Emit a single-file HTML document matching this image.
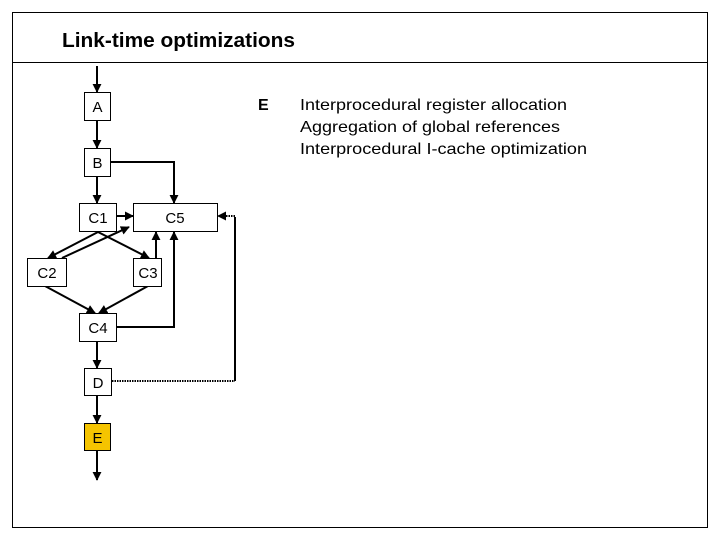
<!DOCTYPE html>
<html><head><meta charset="utf-8"><style>
html,body{margin:0;padding:0;background:#fff;}
svg{display:block;}
text{font-family:"Liberation Sans",Arial,sans-serif;}
</style></head><body>
<svg width="720" height="540" viewBox="0 0 720 540" xmlns="http://www.w3.org/2000/svg">
<defs>
<marker id="ar" viewBox="0 0 10 10" refX="9" refY="5" markerWidth="4.5" markerHeight="4.5" orient="auto-start-reverse">
<path d="M0,0 L10,5 L0,10 z" fill="#000"/></marker>
</defs>
<rect x="12.5" y="12.5" width="695" height="515" fill="none" stroke="#000" stroke-width="1"/>
<line x1="12" y1="62.5" x2="708" y2="62.5" stroke="#000" stroke-width="1"/>
<text x="62" y="47" font-size="20" font-weight="bold" textLength="233" lengthAdjust="spacingAndGlyphs">Link-time optimizations</text>
<text x="258" y="110" font-size="16" font-weight="bold">E</text>
<text x="300" y="110" font-size="16" textLength="267" lengthAdjust="spacingAndGlyphs">Interprocedural register allocation</text>
<text x="300" y="132" font-size="16" textLength="260" lengthAdjust="spacingAndGlyphs">Aggregation of global references</text>
<text x="300" y="154" font-size="16" textLength="287" lengthAdjust="spacingAndGlyphs">Interprocedural I-cache optimization</text>
<g stroke="#000" stroke-width="2" fill="none">
<line x1="97" y1="66" x2="97" y2="92" marker-end="url(#ar)"/>
<line x1="97" y1="120" x2="97" y2="148" marker-end="url(#ar)"/>
<line x1="97" y1="176" x2="97" y2="203" marker-end="url(#ar)"/>
<polyline points="110,162 174,162 174,203" marker-end="url(#ar)"/>
<line x1="116" y1="216" x2="133" y2="216" marker-end="url(#ar)"/>
<line x1="98" y1="232" x2="48" y2="258" marker-end="url(#ar)"/>
<line x1="98" y1="232" x2="149" y2="258" marker-end="url(#ar)"/>
<line x1="62" y1="258" x2="129" y2="227" marker-end="url(#ar)"/>
<line x1="156" y1="258" x2="156" y2="232" marker-end="url(#ar)"/>
<line x1="45" y1="286" x2="95" y2="313" marker-end="url(#ar)"/>
<line x1="148" y1="286" x2="99" y2="313" marker-end="url(#ar)"/>
<polyline points="116,327 174,327 174,232" marker-end="url(#ar)"/>
<line x1="97" y1="341" x2="97" y2="368" marker-end="url(#ar)"/>
<line x1="97" y1="395" x2="97" y2="423" marker-end="url(#ar)"/>
<line x1="97" y1="450" x2="97" y2="480" marker-end="url(#ar)"/>
<line x1="235" y1="381" x2="235" y2="217"/>
</g>
<g stroke="#000" stroke-width="2" fill="none" stroke-dasharray="1.5,1">
<line x1="112" y1="381" x2="235" y2="381"/>
<line x1="235" y1="216" x2="218" y2="216" marker-end="url(#ar)"/>
</g>
<g stroke="#000" stroke-width="1" fill="#fff">
<rect x="84.5" y="92.5" width="26" height="28"/>
<rect x="84.5" y="148.5" width="26" height="28"/>
<rect x="79.5" y="203.5" width="37" height="28"/>
<rect x="133.5" y="203.5" width="84" height="28"/>
<rect x="27.5" y="258.5" width="39" height="28"/>
<rect x="133.5" y="258.5" width="28" height="28"/>
<rect x="79.5" y="313.5" width="37" height="28"/>
<rect x="84.5" y="368.5" width="27" height="27"/>
<rect x="84.5" y="423.5" width="26" height="27" fill="#f5c400"/>
</g>
<g font-size="15" text-anchor="middle">
<text x="97.5" y="112">A</text>
<text x="97.5" y="168">B</text>
<text x="98" y="223">C1</text>
<text x="175" y="223">C5</text>
<text x="47" y="278">C2</text>
<text x="148" y="278">C3</text>
<text x="98" y="333">C4</text>
<text x="98" y="388">D</text>
<text x="97.5" y="443">E</text>
</g>
</svg>
</body></html>
